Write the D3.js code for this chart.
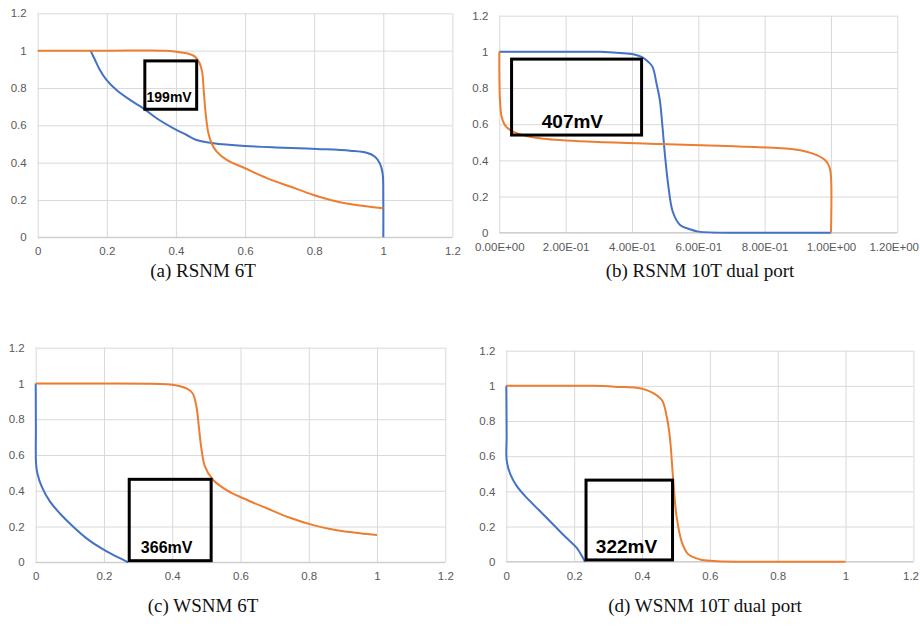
<!DOCTYPE html>
<html>
<head>
<meta charset="utf-8">
<script src="https://cdn.jsdelivr.net/npm/d3@7/dist/d3.min.js"></script>
<style>
  html, body { margin: 0; padding: 0; background: #fff; }
  svg { display: block; }
</style>
</head>
<body>
<svg id="chart" width="920" height="628"></svg>
<script>
// ---------------- DATA ----------------
const yTicks = [0, 0.2, 0.4, 0.6, 0.8, 1, 1.2];
const yTickLabels = ["0", "0.2", "0.4", "0.6", "0.8", "1", "1.2"];
const xTicks = [0, 0.2, 0.4, 0.6, 0.8, 1, 1.2];
const xTickLabelsPlain = ["0", "0.2", "0.4", "0.6", "0.8", "1", "1.2"];
const xTickLabelsSci = ["0.00E+00", "2.00E-01", "4.00E-01", "6.00E-01", "8.00E-01", "1.00E+00", "1.20E+00"];

const captions = ["(a) RSNM 6T", "(b) RSNM 10T dual port", "(c) WSNM 6T", "(d) WSNM 10T dual port"];

// (a) RSNM 6T
const aOrange = [[0,1],[0.2,1],[0.373,1],[0.397,0.995],[0.431,0.986],[0.455,0.968],[0.468,0.935],[0.476,0.885],[0.481,0.771],[0.487,0.646],[0.494,0.557],[0.503,0.504],[0.518,0.459],[0.547,0.415],[0.600,0.370],[0.663,0.317],[0.730,0.272],[0.798,0.227],[0.865,0.192],[0.932,0.170],[1.0,0.155]];
const aBlue = [[0.153,1],[0.166,0.950],[0.180,0.896],[0.199,0.843],[0.228,0.789],[0.267,0.736],[0.306,0.691],[0.344,0.638],[0.393,0.584],[0.431,0.548],[0.460,0.521],[0.508,0.504],[0.600,0.489],[0.711,0.480],[0.808,0.473],[0.904,0.464],[0.952,0.453],[0.976,0.432],[0.990,0.396],[0.998,0.343],[1.0,0.2],[1.0,0]];
const aBox = [0.310, 0.945, 0.460, 0.686];   // x0, y0, x1, y1
const aLabel = ["199mV", 0.315, 0.727];

// (b) RSNM 10T dual port
const bBlue = [[0,1],[0.15,1],[0.304,1],[0.364,0.994],[0.404,0.987],[0.429,0.972],[0.449,0.945],[0.462,0.917],[0.474,0.825],[0.484,0.733],[0.492,0.586],[0.499,0.439],[0.510,0.254],[0.523,0.116],[0.545,0.043],[0.575,0.019],[0.600,0.006],[0.736,0],[0.9,0],[1.0,0]];
const bOrange = [[0,1],[0.002,0.733],[0.007,0.641],[0.017,0.595],[0.037,0.563],[0.082,0.535],[0.133,0.520],[0.284,0.503],[0.485,0.490],[0.686,0.479],[0.887,0.462],[0.927,0.448],[0.957,0.429],[0.982,0.402],[0.995,0.365],[1.0,0.31],[1.0,0]];
const bBox = [0.037, 0.960, 0.429, 0.540];
const bLabel = ["407mV", 0.128, 0.580];

// (c) WSNM 6T
const cOrange = [[0,1],[0.2,1],[0.384,0.996],[0.413,0.989],[0.442,0.972],[0.460,0.944],[0.471,0.870],[0.479,0.739],[0.486,0.628],[0.496,0.535],[0.520,0.460],[0.559,0.404],[0.608,0.358],[0.677,0.302],[0.745,0.249],[0.813,0.208],[0.882,0.179],[0.950,0.162],[1.0,0.152]];
const cBlue = [[0,1],[0.0005,0.75],[0.001,0.553],[0.005,0.497],[0.018,0.422],[0.042,0.339],[0.071,0.273],[0.110,0.199],[0.149,0.134],[0.188,0.083],[0.227,0.041],[0.271,0]];
const cBox = [0.274, 0.464, 0.514, 0.009];
const cLabel = ["366mV", 0.308, 0.050];

// (d) WSNM 10T dual port
const dOrange = [[0,1],[0.256,1],[0.335,0.994],[0.384,0.989],[0.414,0.976],[0.443,0.947],[0.460,0.915],[0.473,0.824],[0.482,0.710],[0.492,0.464],[0.502,0.256],[0.517,0.114],[0.536,0.043],[0.571,0.013],[0.610,0.004],[0.688,0],[0.85,0],[1.0,0]];
const dBlue = [[0,1],[0.001,0.710],[0.001,0.578],[0.012,0.496],[0.031,0.430],[0.060,0.364],[0.099,0.288],[0.138,0.212],[0.177,0.136],[0.207,0.080],[0.232,0]];
const dBox = [0.235, 0.464, 0.490, 0.010];
const dLabel = ["322mV", 0.264, 0.051];

// ---------------- LAYOUT ----------------
const panels = [
  { left: 37.7, right: 452.4, top: 13.3, bottom: 237.3, xLabels: xTickLabelsPlain, series: [aBlue, aOrange], box: aBox, label: aLabel, labelSize: 14, cap: captions[0], capX: 203, capY: 277 },
  { left: 499.3, right: 897.3, top: 15.7, bottom: 232.7, xLabels: xTickLabelsSci, series: [bBlue, bOrange], box: bBox, label: bLabel, labelSize: 19, cap: captions[1], capX: 700, capY: 277 },
  { left: 35.7, right: 445.3, top: 347.7, bottom: 562.3, xLabels: xTickLabelsPlain, series: [cBlue, cOrange], box: cBox, label: cLabel, labelSize: 16, cap: captions[2], capX: 203, capY: 612 },
  { left: 506.3, right: 913.4, top: 350.7, bottom: 561.7, xLabels: xTickLabelsPlain, series: [dBlue, dOrange], box: dBox, label: dLabel, labelSize: 19, cap: captions[3], capX: 705, capY: 612 }
];
const colors = ["#4472C4", "#ED7D31"];

const svg = d3.select("#chart");

panels.forEach(p => {
  const x = d3.scaleLinear().domain([0, 1.2]).range([p.left, p.right]);
  const y = d3.scaleLinear().domain([0, 1.2]).range([p.bottom, p.top]);
  const g = svg.append("g");

  // vertical gridlines + x tick labels
  const xa = g.append("g").attr("transform", `translate(0,${p.bottom})`)
    .call(d3.axisBottom(x).tickValues(xTicks).tickSize(-(p.bottom - p.top)).tickPadding(10)
      .tickFormat((d, i) => p.xLabels[i]));
  // horizontal gridlines + y tick labels
  const ya = g.append("g").attr("transform", `translate(${p.left},0)`)
    .call(d3.axisLeft(y).tickValues(yTicks).tickSize(-(p.right - p.left)).tickPadding(11)
      .tickFormat((d, i) => yTickLabels[i]));
  [xa, ya].forEach(a => {
    a.attr("font-size", null).attr("font-family", null);
    a.select(".domain").remove();
    a.selectAll(".tick line").attr("stroke", "#d9d9d9").attr("stroke-width", 1);
    a.selectAll(".tick text").attr("fill", "#595959")
      .style("font-family", "'Liberation Sans', Arial, sans-serif").style("font-size", "11.5px");
  });
  // keep the outermost x labels inside the page, as the reference does
  xa.selectAll(".tick text").each(function () {
    const bb = this.getBBox();
    const ctm = this.getCTM();
    const right = ctm.e + bb.x + bb.width;
    if (right > 919) d3.select(this).attr("x", 919 - right);
  });
  // axis baseline
  g.append("line").attr("x1", x(0)).attr("x2", x(1.2)).attr("y1", y(0)).attr("y2", y(0))
    .attr("stroke", "#c8c8c8").attr("stroke-width", 1);

  // curves
  const line = d3.line().x(d => x(d[0])).y(d => y(d[1])).curve(d3.curveCatmullRom.alpha(0.5));
  p.series.forEach((s, i) => {
    g.append("path").datum(s).attr("d", line)
      .attr("fill", "none").attr("stroke", colors[i]).attr("stroke-width", 2)
      .attr("stroke-linejoin", "round");
  });

  // noise-margin box
  const [bx0, by0, bx1, by1] = p.box;
  g.append("rect").attr("x", x(bx0)).attr("y", y(by0))
    .attr("width", x(bx1) - x(bx0)).attr("height", y(by1) - y(by0))
    .attr("fill", "none").attr("stroke", "#000").attr("stroke-width", 3);
  g.append("text").attr("x", x(p.label[1])).attr("y", y(p.label[2]))
    .text(p.label[0]).attr("fill", "#000")
    .style("font-family", "'Liberation Sans', Arial, sans-serif")
    .style("font-weight", "bold").style("font-size", p.labelSize + "px");

  // caption
  svg.append("text").attr("x", p.capX).attr("y", p.capY).attr("text-anchor", "middle")
    .text(p.cap).attr("fill", "#111")
    .style("font-family", "'Liberation Serif', 'Times New Roman', serif").style("font-size", "19px");
});
</script>
</body>
</html>
